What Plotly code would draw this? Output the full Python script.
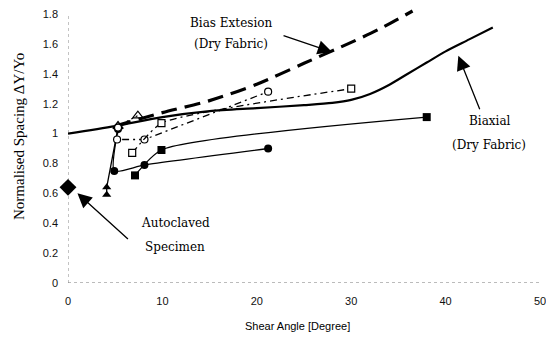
import plotly.graph_objects as go

# ---- data ----
biaxial_x = [0, 5, 10, 15, 20, 25, 28, 30, 32, 34, 36, 38, 40, 42.5, 45]
biaxial_y = [1.0, 1.05, 1.11, 1.15, 1.17, 1.19, 1.205, 1.225, 1.265, 1.325, 1.40, 1.475, 1.55, 1.63, 1.71]

bias_x = [5, 10, 15, 20, 25, 30, 33, 36.5]
bias_y = [1.05, 1.14, 1.22, 1.33, 1.47, 1.61, 1.70, 1.82]

tri_filled_x = [4.1, 4.1, 5.3]
tri_filled_y = [0.59, 0.64, 1.04]

tri_open_x = [5.3, 7.4]
tri_open_y = [1.05, 1.12]

circ_filled_x = [5.3, 4.9, 8.1, 21.2]
circ_filled_y = [1.03, 0.75, 0.79, 0.90]

sq_filled_x = [7.1, 9.9, 38.0]
sq_filled_y = [0.72, 0.89, 1.11]

circ_open_x = [5.3, 5.2, 8.1, 21.2]
circ_open_y = [1.04, 0.96, 0.96, 1.28]

sq_open_x = [6.8, 9.9, 30.0]
sq_open_y = [0.87, 1.07, 1.30]

autoclaved_x = [0]
autoclaved_y = [0.64]

x_ticks = [0, 10, 20, 30, 40, 50]
y_ticks = [0, 0.2, 0.4, 0.6, 0.8, 1, 1.2, 1.4, 1.6, 1.8]
y_tick_text = ["0", "0.2", "0.4", "0.6", "0.8", "1", "1.2", "1.4", "1.6", "1.8"]

fig = go.Figure()

# reference curves
fig.add_trace(go.Scatter(x=biaxial_x, y=biaxial_y, mode="lines",
                         line=dict(color="black", width=2.2, shape="spline", smoothing=0.8)))
fig.add_trace(go.Scatter(x=bias_x, y=bias_y, mode="lines",
                         line=dict(color="black", width=3.2, dash="16px,8px", shape="spline", smoothing=0.8)))

# specimens (filled markers, solid lines)
fig.add_trace(go.Scatter(x=tri_filled_x, y=tri_filled_y, mode="lines+markers",
                         line=dict(color="black", width=1.3),
                         marker=dict(symbol="triangle-up", size=8, color="black")))
fig.add_trace(go.Scatter(x=circ_filled_x, y=circ_filled_y, mode="lines+markers",
                         line=dict(color="black", width=1.3, shape="spline", smoothing=0.6),
                         marker=dict(symbol="circle", size=8, color="black")))
fig.add_trace(go.Scatter(x=sq_filled_x, y=sq_filled_y, mode="lines+markers",
                         line=dict(color="black", width=1.3, shape="spline", smoothing=0.6),
                         marker=dict(symbol="square", size=8, color="black")))

# specimens (open markers, broken lines)
fig.add_trace(go.Scatter(x=tri_open_x, y=tri_open_y, mode="lines+markers",
                         line=dict(color="black", width=1.2, dash="2px,3px"),
                         marker=dict(symbol="triangle-up-open", size=9, color="black", line=dict(width=1.2))))
fig.add_trace(go.Scatter(x=circ_open_x, y=circ_open_y, mode="lines+markers",
                         line=dict(color="black", width=1.3, dash="7px,4px,2px,4px"),
                         marker=dict(symbol="circle", size=7, color="white", line=dict(color="black", width=1.2))))
fig.add_trace(go.Scatter(x=sq_open_x, y=sq_open_y, mode="lines+markers",
                         line=dict(color="black", width=1.3, dash="7px,4px,2px,4px", shape="spline", smoothing=0.5),
                         marker=dict(symbol="square", size=7, color="white", line=dict(color="black", width=1.2))))

fig.add_trace(go.Scatter(x=autoclaved_x, y=autoclaved_y, mode="markers", cliponaxis=False,
                         marker=dict(symbol="diamond", size=13, color="black")))

# dotted axes
fig.add_shape(type="line", x0=0, x1=0, y0=0, y1=1.8, xref="x", yref="y",
              line=dict(color="#888", width=1, dash="dot"), layer="below")
fig.add_shape(type="line", x0=0, x1=50, y0=0, y1=0, xref="x", yref="y",
              line=dict(color="#777", width=1, dash="dot"), layer="below")

serif = "DejaVu Serif"
afont = dict(family=serif, size=12, color="black")

# the page adds an 8px body margin, so the figure is drawn 8px smaller and offset
OFF = 8
W, H = 554 - OFF, 337 - OFF
L, R, T, B = 60, 14, 0, 54


def px2paper(x, y):
    # x, y are page pixel positions (as in the reference)
    x -= OFF
    y -= OFF
    return (x - L) / (W - L - R), 1 - (y - T) / (H - T - B)


def label(text, px, py):
    fig.add_annotation(x=px, y=py, xref="paper", yref="paper", text=text, showarrow=False,
                       font=afont, xanchor="center", yanchor="middle")


for txt, (x, y) in [("Bias Extesion", (231, 23)), ("(Dry Fabric)", (231, 44)),
                    ("Biaxial", (490, 121)), ("(Dry Fabric)", (489, 145)),
                    ("Autoclaved", (175, 223)), ("Specimen", (175, 247))]:
    px, py = px2paper(x, y)
    label(txt, px, py)

arrow = dict(showarrow=True, arrowhead=2, arrowsize=2.2, arrowwidth=1.3, arrowcolor="black",
             axref="pixel", ayref="pixel", text="")
fig.add_annotation(x=27.97, y=1.545, ax=-50, ay=-17, **arrow)
fig.add_annotation(x=41.35, y=1.52, ax=22, ay=55, **arrow)
fig.add_annotation(x=1.0, y=0.60, ax=52, ay=47, **arrow)

# y title
px, py = px2paper(19, 137)
fig.add_annotation(x=px, y=py, xref="paper", yref="paper", text="Normalised Spacing ΔY/Yo",
                   showarrow=False, textangle=-90, font=dict(family="Liberation Serif", size=15, color="black"),
                   xanchor="center", yanchor="middle")
# x title
px, py = px2paper(297, 326)
fig.add_annotation(x=px, y=py, xref="paper", yref="paper", text="Shear Angle [Degree]",
                   showarrow=False, font=dict(family="Liberation Sans", size=11, color="black"),
                   xanchor="center", yanchor="middle")

tickfont = dict(family="Liberation Sans", size=11, color="#111")
fig.update_layout(
    width=W, height=H, margin=dict(l=L, r=R, t=T, b=B, pad=0, autoexpand=False),
    paper_bgcolor="white", plot_bgcolor="white", showlegend=False,
    xaxis=dict(range=[0, 50], tickvals=x_ticks, showgrid=False, zeroline=False, showline=False,
               ticks="", tickfont=tickfont, ticklabelstandoff=10),
    yaxis=dict(range=[0, 1.84], tickvals=y_ticks, ticktext=y_tick_text, showgrid=False, zeroline=False,
               showline=False, ticks="", tickfont=tickfont, ticklabelstandoff=9,
               ticklabeloverflow="allow"),
)

fig.write_html("out.html")
